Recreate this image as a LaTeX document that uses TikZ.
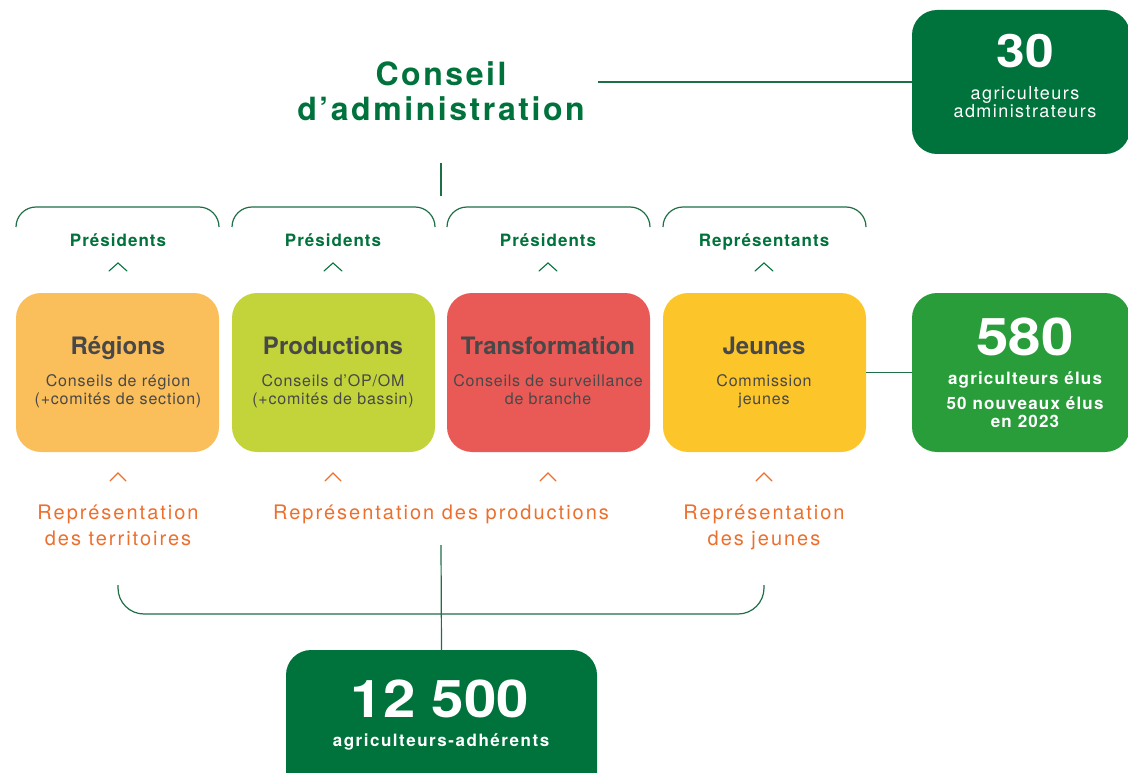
\documentclass[tikz,border=0pt]{standalone}
\usepackage{fontspec}
\setmainfont{TeX Gyre Heros}
\newfontfamily\fnum[FakeStretch=1.12]{TeX Gyre Heros}
\newcommand{\trk}[1]{\addfontfeature{LetterSpace=#1}}
\newcommand{\fsz}[1]{\fontsize{#1}{#1}\selectfont}
\definecolor{dgreen}{RGB}{0,114,59}
\definecolor{mgreen}{RGB}{42,157,59}
\definecolor{lineg}{RGB}{30,110,70}
\definecolor{cReg}{RGB}{250,190,91}
\definecolor{cProd}{RGB}{195,212,59}
\definecolor{cTrans}{RGB}{233,90,86}
\definecolor{cJeu}{RGB}{252,198,42}
\definecolor{tgray}{RGB}{72,72,72}
\definecolor{torange}{RGB}{236,111,45}
\begin{document}
\begin{tikzpicture}[x=1pt,y=-1pt,
  conn/.style={draw=lineg, line width=1.2pt},
  chev/.style={line width=1.1pt, line cap=round, line join=miter},
  card/.style={rectangle, rounded corners=25pt, inner sep=0pt, draw=none},
  lbl/.style={anchor=base, inner sep=0pt},
  ptitle/.style={lbl, text=tgray, font=\fsz{24}\bfseries},
  psub/.style={lbl, text=tgray, font=\fsz{16}\trk{5}},
  pres/.style={lbl, text=dgreen, font=\fsz{17}\bfseries\trk{6}},
  orng/.style={lbl, text=torange, font=\fsz{20}\trk{10}},
  wnum/.style={lbl, text=white},
  wtxt/.style={lbl, text=white, font=\fsz{17}\bfseries\trk{7}}]
\useasboundingbox (0,0) rectangle (1128,773);
\clip (0,0) rectangle (1128,773);

% title
\node[lbl, text=dgreen, font=\fsz{32}\bfseries\trk{8}] (t1) at (441,86) {Conseil};
\node[lbl, text=dgreen, font=\fsz{32}\bfseries\trk{8}] (t2) at (441,121) {d’administration};

% cards
\node[card, fill=dgreen, minimum width=218pt, minimum height=144pt] (n30) at (1021,82) {};
\node[card, fill=cReg, minimum width=203pt, minimum height=159pt] (reg) at (117.5,372.5) {};
\node[card, fill=cProd, minimum width=203pt, minimum height=159pt] (prod) at (333.5,372.5) {};
\node[card, fill=cTrans, minimum width=203pt, minimum height=159pt] (trans) at (548.5,372.5) {};
\node[card, fill=cJeu, minimum width=203pt, minimum height=159pt] (jeu) at (764.5,372.5) {};
\node[card, fill=mgreen, minimum width=218pt, minimum height=159pt] (n580) at (1021,372.5) {};
\node[card, fill=dgreen, minimum width=311pt, minimum height=150pt] (n12) at (441.5,725) {};

% 30 box text
\node[wnum, font=\fnum\fsz{46}\bfseries] (v30) at (1025,68) {30};
\node[lbl, text=white, font=\fsz{18}\trk{8}] (a30a) at (1025,100) {agriculteurs};
\node[lbl, text=white, font=\fsz{18}\trk{8}] (a30b) at (1025,118) {administrateurs};

% 580 box text
\node[wnum, font=\fnum\fsz{52}\bfseries] (v580) at (1025,355) {580};
\node[wtxt] (a580) at (1025,384) {agriculteurs élus};
\node[wtxt] (b580) at (1025,409) {50 nouveaux élus};
\node[wtxt] (c580) at (1025,427) {en 2023};

% 12 500 box text
\node[wnum, font=\fnum\fsz{52}\bfseries] (v12) at (440,717) {12 500};
\node[wtxt, font=\fsz{17}\bfseries\trk{9}] (a12) at (441,746) {agriculteurs-adhérents};

% card titles
\node[ptitle] (regT) at (118,354) {Régions};
\node[psub] (regS1) at (118,386) {Conseils de région};
\node[psub] (regS2) at (118,404) {(+comités de section)};
\node[ptitle] (prodT) at (333,354) {Productions};
\node[psub] (prodS1) at (333,386) {Conseils d’OP/OM};
\node[psub] (prodS2) at (333,404) {(+comités de bassin)};
\node[ptitle] (transT) at (548,354) {Transformation};
\node[psub] (transS1) at (548,386) {Conseils de surveillance};
\node[psub] (transS2) at (548,404) {de branche};
\node[ptitle] (jeuT) at (764,354) {Jeunes};
\node[psub] (jeuS1) at (764,386) {Commission};
\node[psub] (jeuS2) at (764,404) {jeunes};

% upper labels
\node[pres] (p1) at (118,246) {Présidents};
\node[pres] (p2) at (333,246) {Présidents};
\node[pres] (p3) at (548,246) {Présidents};
\node[pres] (p4) at (764,246) {Représentants};

% lower labels
\node[orng] (o1a) at (118,519) {Représentation};
\node[orng] (o1b) at (118,545) {des territoires};
\node[orng] (o2) at (441,519) {Représentation des productions};
\node[orng] (o3a) at (764,519) {Représentation};
\node[orng] (o3b) at (764,545) {des jeunes};

% chevrons
\foreach \x in {118,333,548,764}{
  \draw[chev, draw=dgreen] (\x-9,271) -- (\x,263) -- (\x+9,271);
  \draw[chev, draw=torange] (\x-8,481) -- (\x,473) -- (\x+8,481);
}

% top brackets
\foreach \a/\b in {16/219,232/435,447/650,663/866}{
  \draw[conn, rounded corners=20pt] (\a,227) -- (\a,207) -- (\b,207) -- (\b,227);
}

% connectors
\coordinate (tl) at (598,82);
\draw[conn] (tl) -- (n30.west);
\coordinate (tv1) at (441,163);
\coordinate (tv2) at (441,196);
\draw[conn] (tv1) -- (tv2);
\draw[conn] (jeu.east) -- (n580.west);
\draw[conn, rounded corners=26pt] (118,585) -- (118,614) -- (764,614) -- (764,585);
\coordinate (bv) at (441,545);
\draw[conn] (bv) -- (n12.north);
\end{tikzpicture}
\end{document}
